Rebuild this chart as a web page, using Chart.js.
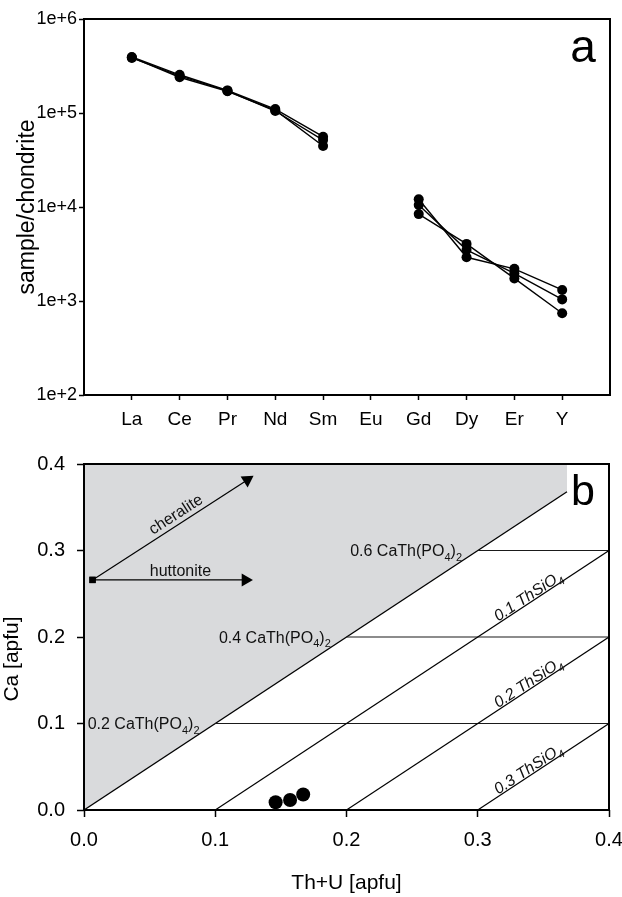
<!doctype html>
<html>
<head>
<meta charset="utf-8" />
<title>REE pattern and Ca vs Th+U</title>
<script src="https://cdn.jsdelivr.net/npm/chart.js"></script>
<style>
  html, body { margin: 0; padding: 0; background: #fff; }
  #wrap { position: relative; width: 622px; height: 897px; }
  canvas { position: absolute; left: 0; }
  #chartA { top: 0; }
  #chartB { top: 440px; }
</style>
</head>
<body>
<div id="wrap">
  <canvas id="chartA" width="622" height="440"></canvas>
  <canvas id="chartB" width="622" height="457"></canvas>
</div>
<script>
// panel a: chondrite normalised REE, three analyses (Eu not measured)
const elements = ["La", "Ce", "Pr", "Nd", "Sm", "Eu", "Gd", "Dy", "Er", "Y"];
const sample1 = [395000, 255000, 174000, 110000, 56000, null, 12100, 2920, 2200, 1310];
const sample2 = [390000, 240000, 170000, 107000, 44600, null, 8400, 4050, 1740, 740];
const sample3 = [385000, 248000, 172000, 105000, 51500, null, 10500, 3500, 1970, 1040];
const logTicks = [1e2, 1e3, 1e4, 1e5, 1e6];

// panel b: Ca vs Th+U
const thu = [0.146, 0.157, 0.167];
const ca = [0.009, 0.0115, 0.018];
const axisTicksB = [0, 0.1, 0.2, 0.3, 0.4];
const cheraliteSteps = [0.1, 0.2, 0.3];   // 0.2 / 0.4 / 0.6 CaTh(PO4)2
const thsio4Steps = [0.1, 0.2, 0.3];      // 0.1 / 0.2 / 0.3 ThSiO4
const fieldEdge = 0.368;                  // where the y = x limit stops
const huttoniteX = [0.0065, 0.123];
const huttoniteY = [0.266, 0.266];
const cheraliteX = [0.0065, 0.1244];
const cheraliteY = [0.266, 0.3816];

const FONT = '"Liberation Sans", Arial, Helvetica, sans-serif';
Chart.defaults.font.family = FONT;
Chart.defaults.color = '#000';

const frame = {
  id: 'frame',
  afterDraw(chart) {
    const { ctx, chartArea: a } = chart;
    ctx.save();
    ctx.strokeStyle = '#000';
    ctx.lineWidth = 2;
    ctx.strokeRect(a.left, a.top, a.right - a.left, a.bottom - a.top);
    ctx.restore();
  }
};

function cornerLetter(text, size, dx, dy) {
  return {
    id: 'letter_' + text,
    afterDraw(chart) {
      const { ctx, chartArea: a } = chart;
      ctx.save();
      ctx.font = size + 'px ' + FONT;
      ctx.fillStyle = '#000';
      ctx.textAlign = 'center';
      ctx.textBaseline = 'alphabetic';
      ctx.fillText(text, a.right + dx, a.top + dy);
      ctx.restore();
    }
  };
}

function partFont(p, size, italic) {
  return (italic ? 'italic ' : '') + (p.sub ? Math.round(size * 0.68) : size) + 'px ' + FONT;
}

// text with subscripts, anchored on the middle of the capitals
function drawFormula(ctx, parts, x, y, size, opts) {
  opts = opts || {};
  let w = 0;
  parts.forEach(p => { ctx.font = partFont(p, size, opts.italic); w += ctx.measureText(p.t).width; });
  ctx.save();
  ctx.translate(x, y);
  ctx.rotate(opts.angle || 0);
  ctx.textAlign = 'left';
  ctx.textBaseline = 'alphabetic';
  let cx = opts.align === 'right' ? -w : opts.align === 'center' ? -w / 2 : 0;
  const base = size * 0.36;
  parts.forEach(p => {
    ctx.font = partFont(p, size, opts.italic);
    ctx.fillText(p.t, cx, base + (p.sub ? size * 0.28 : 0));
    cx += ctx.measureText(p.t).width;
  });
  ctx.restore();
}

const notes = {
  id: 'notes',
  afterDatasetsDraw(chart) {
    const { ctx, chartArea: a } = chart;
    const sx = chart.scales.x, sy = chart.scales.y;
    const px = v => sx.getPixelForValue(v), py = v => sy.getPixelForValue(v);
    const diag = Math.atan2(py(0.1) - py(0), px(0.1) - px(0));
    const arrowAngle = Math.atan2(py(cheraliteY[1]) - py(cheraliteY[0]), px(cheraliteX[1]) - px(cheraliteX[0]));
    ctx.save();
    ctx.fillStyle = '#111';
    drawFormula(ctx, [{ t: 'cheralite' }], px(0.0696), py(0.3426), 16, { align: 'center', angle: arrowAngle });
    drawFormula(ctx, [{ t: 'huttonite' }], px(0.0735), py(0.2768), 16, { align: 'center' });
    cheraliteSteps.forEach(s => {
      drawFormula(ctx, [{ t: (2 * s).toFixed(1) + ' CaTh(PO' }, { t: '4', sub: true }, { t: ')' }, { t: '2', sub: true }],
        px(s - 0.012), py(s), 16, { align: 'right' });
    });
    thsio4Steps.forEach(s => {
      drawFormula(ctx, [{ t: s.toFixed(1) + ' ThSiO' }, { t: '4', sub: true }],
        px(0.338), py(0.348 - s), 16, { align: 'center', angle: diag, italic: true });
    });
    // y title of panel b sits a little below the middle
    ctx.fillStyle = '#000';
    ctx.font = '21px ' + FONT;
    ctx.translate(12.5, (a.top + a.bottom) / 2 + 22);
    ctx.rotate(-Math.PI / 2);
    ctx.textAlign = 'center';
    ctx.textBaseline = 'middle';
    ctx.fillText('Ca [apfu]', 0, 0);
    ctx.restore();
  }
};

const tickGrid = len => ({ drawOnChartArea: false, tickLength: len, tickColor: '#000', tickWidth: 1.5 });

// ---- panel a ----
const reeStyle = {
  borderColor: '#000', borderWidth: 1.4, tension: 0, spanGaps: false,
  pointRadius: 5, pointHoverRadius: 5, pointBackgroundColor: '#000', pointBorderWidth: 0
};

new Chart(document.getElementById('chartA'), {
  type: 'line',
  data: {
    datasets: [sample1, sample2, sample3].map(s => ({
      ...reeStyle,
      data: s.map((v, i) => ({ x: i + 1, y: v }))
    }))
  },
  options: {
    responsive: false, animation: false, devicePixelRatio: 1,
    layout: { padding: { left: 0, right: 12, top: 19, bottom: 0 } },
    plugins: { legend: { display: false }, tooltip: { enabled: false } },
    scales: {
      x: {
        type: 'linear', min: 0, max: 11,
        afterBuildTicks: s => { s.ticks = elements.map((e, i) => ({ value: i + 1 })); },
        afterFit: s => { s.height = 45; s.paddingRight = 0; },
        ticks: { callback: v => elements[v - 1], font: { size: 19 }, padding: 8, maxRotation: 0, autoSkip: false },
        grid: tickGrid(5), border: { display: false }
      },
      y: {
        type: 'logarithmic', min: 100, max: 1e6,
        afterBuildTicks: s => { s.ticks = logTicks.map(v => ({ value: v })); },
        afterFit: s => { s.width = 84; },
        ticks: { callback: v => '1e+' + Math.round(Math.log10(v)), font: { size: 18 }, padding: 2 },
        grid: tickGrid(5), border: { display: false },
        title: { display: true, text: 'sample/chondrite', font: { size: 23 }, padding: { top: 14, bottom: 0 } }
      }
    }
  },
  plugins: [frame, cornerLetter('a', 46, -27, 43)]
});

// ---- panel b ----
const thin = { borderColor: '#000', borderWidth: 1.2, pointRadius: 0, fill: false, tension: 0 };

function headAngle(c) {
  const d = c.dataset.data, sx = c.chart.scales.x, sy = c.chart.scales.y;
  const dx = sx.getPixelForValue(d[1].x) - sx.getPixelForValue(d[0].x);
  const dy = sy.getPixelForValue(d[1].y) - sy.getPixelForValue(d[0].y);
  return Math.atan2(dx, -dy) * 180 / Math.PI;
}

const arrowStyle = {
  borderColor: '#000', borderWidth: 1.2, fill: false, tension: 0,
  pointStyle: c => c.dataIndex === 0 ? 'rect' : 'triangle',
  pointRadius: c => c.dataIndex === 0 ? 4.5 : 7.5,
  pointHoverRadius: c => c.dataIndex === 0 ? 4.5 : 7.5,
  pointRotation: c => c.dataIndex === 0 ? 0 : headAngle(c),
  pointBackgroundColor: '#000', pointBorderWidth: 0
};

new Chart(document.getElementById('chartB'), {
  type: 'line',
  data: {
    datasets: [
      { ...thin, borderWidth: 1.3, data: [{ x: 0, y: 0 }, { x: fieldEdge, y: fieldEdge }],
        fill: 'end', backgroundColor: '#d9dadc', order: 10 },
      ...thsio4Steps.map(s => ({ ...thin, data: [{ x: s, y: 0 }, { x: 0.4, y: 0.4 - s }] })),
      ...cheraliteSteps.map(s => ({ ...thin, borderColor: '#1a1a1a', data: [{ x: s, y: s }, { x: 0.4, y: s }] })),
      { ...arrowStyle, data: huttoniteX.map((x, i) => ({ x, y: huttoniteY[i] })) },
      { ...arrowStyle, data: cheraliteX.map((x, i) => ({ x, y: cheraliteY[i] })) },
      { data: thu.map((x, i) => ({ x, y: ca[i] })), showLine: false, pointRadius: 7, pointHoverRadius: 7,
        pointBackgroundColor: '#000', pointBorderWidth: 0, order: -1 }
    ]
  },
  options: {
    responsive: false, animation: false, devicePixelRatio: 1,
    layout: { padding: { left: 0, right: 13, top: 22, bottom: 0 } },
    plugins: { legend: { display: false }, tooltip: { enabled: false } },
    scales: {
      x: {
        type: 'linear', min: 0, max: 0.4,
        afterBuildTicks: s => { s.ticks = axisTicksB.map(v => ({ value: v })); },
        afterFit: s => { s.height = 87; s.paddingRight = 0; },
        ticks: { callback: v => v.toFixed(1), font: { size: 20 }, padding: 11, maxRotation: 0 },
        grid: tickGrid(7), border: { display: false },
        title: { display: true, text: 'Th+U [apfu]', font: { size: 21 }, padding: { top: 0, bottom: 1 } }
      },
      y: {
        type: 'linear', min: 0, max: 0.4,
        afterBuildTicks: s => { s.ticks = axisTicksB.map(v => ({ value: v })); },
        afterFit: s => { s.width = 84; },
        ticks: { callback: v => v.toFixed(1), font: { size: 20 }, padding: 12 },
        grid: tickGrid(7), border: { display: false }
      }
    }
  },
  plugins: [frame, notes, cornerLetter('b', 43, -26, 41)]
});
</script>
</body>
</html>
